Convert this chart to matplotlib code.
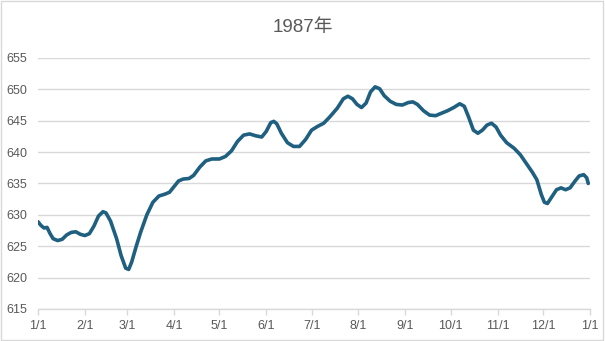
import matplotlib.pyplot as plt
from matplotlib.patches import Rectangle

plt.rcParams['font.family'] = ['Liberation Sans', 'Noto Sans CJK SC', 'DejaVu Sans']

# day of year (0 = 1/1) and daily value
days = [0, 2, 4, 6, 8, 10, 13, 16, 19, 22, 25, 28, 31, 34, 37, 40, 43, 45, 48,
        52, 55, 58, 60, 62, 65, 68, 72, 76, 80, 84, 87, 90, 93, 96, 100, 103,
        107, 111, 115, 120, 124, 128, 132, 136, 140, 144, 148, 151, 154, 156,
        158, 161, 165, 169, 173, 177, 181, 185, 189, 193, 198, 202, 205, 208,
        211, 214, 217, 220, 223, 226, 229, 233, 237, 241, 245, 248, 251, 255,
        259, 263, 267, 271, 275, 279, 282, 285, 288, 291, 294, 297, 300, 303,
        306, 310, 315, 319, 323, 327, 330, 333, 335, 337, 340, 343, 346, 349,
        352, 355, 358, 361, 363, 364]
values = [628.9, 628.3, 627.9, 628.0, 627.0, 626.2, 625.9, 626.1, 626.8, 627.2,
          627.3, 626.9, 626.7, 627.0, 628.2, 629.8, 630.5, 630.3, 629.0, 626.2,
          623.5, 621.5, 621.3, 622.5, 625.0, 627.3, 630.0, 632.0, 633.0, 633.3,
          633.6, 634.5, 635.4, 635.7, 635.8, 636.3, 637.6, 638.6, 638.9, 638.9,
          639.3, 640.2, 641.7, 642.7, 642.9, 642.6, 642.4, 643.3, 644.7, 644.9,
          644.5, 643.0, 641.5, 640.9, 640.9, 642.0, 643.5, 644.1, 644.6, 645.6,
          647.0, 648.5, 648.9, 648.5, 647.6, 647.1, 647.8, 649.6, 650.4, 650.1,
          649.0, 648.1, 647.6, 647.5, 647.9, 648.0, 647.6, 646.6, 645.9, 645.8,
          646.2, 646.6, 647.1, 647.7, 647.3, 645.5, 643.5, 643.0, 643.5, 644.3,
          644.6, 644.0, 642.7, 641.5, 640.6, 639.6, 638.2, 636.8, 635.6, 633.2,
          632.0, 631.8, 632.9, 634.0, 634.3, 634.0, 634.3, 635.3, 636.2, 636.4,
          635.9, 635.0]

month_starts = [0, 31, 59, 90, 120, 151, 181, 212, 243, 273, 304, 334, 365]
month_labels = ['1/1', '2/1', '3/1', '4/1', '5/1', '6/1', '7/1', '8/1',
                '9/1', '10/1', '11/1', '12/1', '1/1']
y_ticks = [615, 620, 625, 630, 635, 640, 645, 650, 655]

grey = '#595959'
grid = '#d9d9d9'

fig = plt.figure(figsize=(6.05, 3.41), dpi=100)
fig.patches.append(Rectangle((0.002, 0.003), 0.994, 0.994, transform=fig.transFigure,
                             fill=False, edgecolor=grid, linewidth=1))
ax = fig.add_axes([0.0628, 0.094, 0.912, 0.736])

ax.plot(days, values, color='#1f5f80', linewidth=2.6, solid_capstyle='round',
        solid_joinstyle='round')

ax.set_xlim(0, 365)
ax.set_ylim(615, 655)
ax.set_yticks(y_ticks)
ax.set_xticks(month_starts)
ax.set_xticklabels(month_labels)
ax.grid(axis='y', color=grid, linewidth=1)
ax.set_axisbelow(True)

for side in ['top', 'right', 'left']:
    ax.spines[side].set_visible(False)
ax.spines['bottom'].set_color(grid)
ax.spines['bottom'].set_linewidth(1)

ax.tick_params(axis='y', length=0, pad=8, labelsize=9, labelcolor=grey)
ax.tick_params(axis='x', length=4, width=1, color=grid, pad=4,
               labelsize=9, labelcolor=grey)

fig.text(0.5, 0.918, '1987年', ha='center', va='center', fontsize=13.5, color=grey)

fig.savefig('out.png', dpi=100)
